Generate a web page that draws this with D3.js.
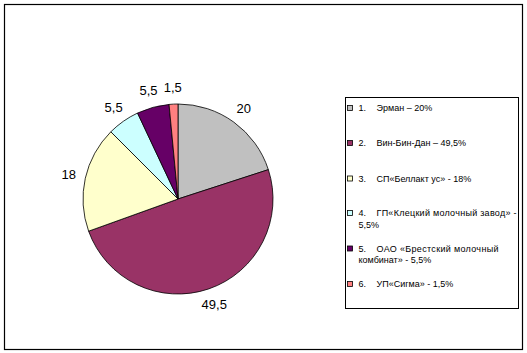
<!DOCTYPE html>
<html><head><meta charset="utf-8">
<script src="https://cdn.jsdelivr.net/npm/d3@7"></script>
<style>body{margin:0;background:#fff}svg{display:block}</style>
</head><body>
<script>
const categories = ["Эрман","Вин-Бин-Дан","СП«Беллактус»","ГП«Клецкий молочный завод»","ОАО «Брестский молочный комбинат»","УП«Сигма»"];
const values = [20, 49.5, 18, 5.5, 5.5, 1.5];
const valueLabels = ["20","49,5","18","5,5","5,5","1,5"];
const colors = ["#C0C0C0","#993366","#FFFFCC","#CCFFFF","#660066","#FF8080"];
const legendNums = ["1.","2.","3.","4.","5.","6."];
const legendFirst = ["Эрман – 20%","Вин-Бин-Дан – 49,5%","СП«Беллакт ус» - 18%","ГП«Клецкий молочный завод» -","ОАО «Брестский молочный","УП«Сигма» - 1,5%"];
const legendSecond = ["","","","5,5%","комбинат» - 5,5%",""];

const W = 527, H = 353;
const svg = d3.select("body").append("svg").attr("width", W).attr("height", H);
svg.append("rect").attr("x",4.5).attr("y",4.5).attr("width",518).attr("height",345)
  .attr("fill","#fff").attr("stroke","#000").attr("stroke-width",1.2);

const cx = 178, cy = 199, r = 95;
const pie = d3.pie().sort(null).value(d => d)(values);
const arc = d3.arc().innerRadius(0).outerRadius(r);
const labelArc = d3.arc().innerRadius(112).outerRadius(112);
const g = svg.append("g").attr("transform", `translate(${cx},${cy})`);
g.selectAll("path").data(pie).join("path")
  .attr("d", arc).attr("fill", (d,i) => colors[i])
  .attr("stroke", "#000").attr("stroke-width", 0.8).attr("stroke-linejoin","round");
g.selectAll("text").data(pie).join("text")
  .attr("transform", d => `translate(${labelArc.centroid(d)})`)
  .attr("text-anchor","middle").attr("dominant-baseline","central")
  .attr("font-family","Arial, 'Liberation Sans', sans-serif").attr("font-size",13)
  .text((d,i) => valueLabels[i]);

// legend
svg.append("rect").attr("x",345.5).attr("y",97.5).attr("width",173).attr("height",211)
  .attr("fill","#fff").attr("stroke","#000").attr("stroke-width",1);
const rowY = [108, 143, 178.5, 213, 248.5, 284];
const lg = svg.append("g").attr("font-family","Arial, 'Liberation Sans', sans-serif").attr("font-size",9);
categories.forEach((c, i) => {
  lg.append("rect").attr("x",347.5).attr("y",rowY[i]-2.5).attr("width",5).attr("height",5)
    .attr("fill",colors[i]).attr("stroke","#000").attr("stroke-width",0.8);
  lg.append("text").attr("x",358.5).attr("y",rowY[i]).attr("dominant-baseline","central").text(legendNums[i]);
  const t1 = lg.append("text").attr("x",376.5).attr("y",rowY[i]).attr("dominant-baseline","central").text(legendFirst[i]);
  if (legendSecond[i]) {
    lg.append("text").attr("x",358.5).attr("y",rowY[i] + 11.5).attr("dominant-baseline","central").text(legendSecond[i]);
  }
});
// stretch long first lines slightly to match reference width
lg.selectAll("text").filter(function(){ return this.textContent.startsWith("ГП"); })
  .attr("textLength", 140).attr("lengthAdjust","spacing");
lg.selectAll("text").filter(function(){ return this.textContent.startsWith("ОАО"); })
  .attr("textLength", 122).attr("lengthAdjust","spacing");
</script>
</body></html>
